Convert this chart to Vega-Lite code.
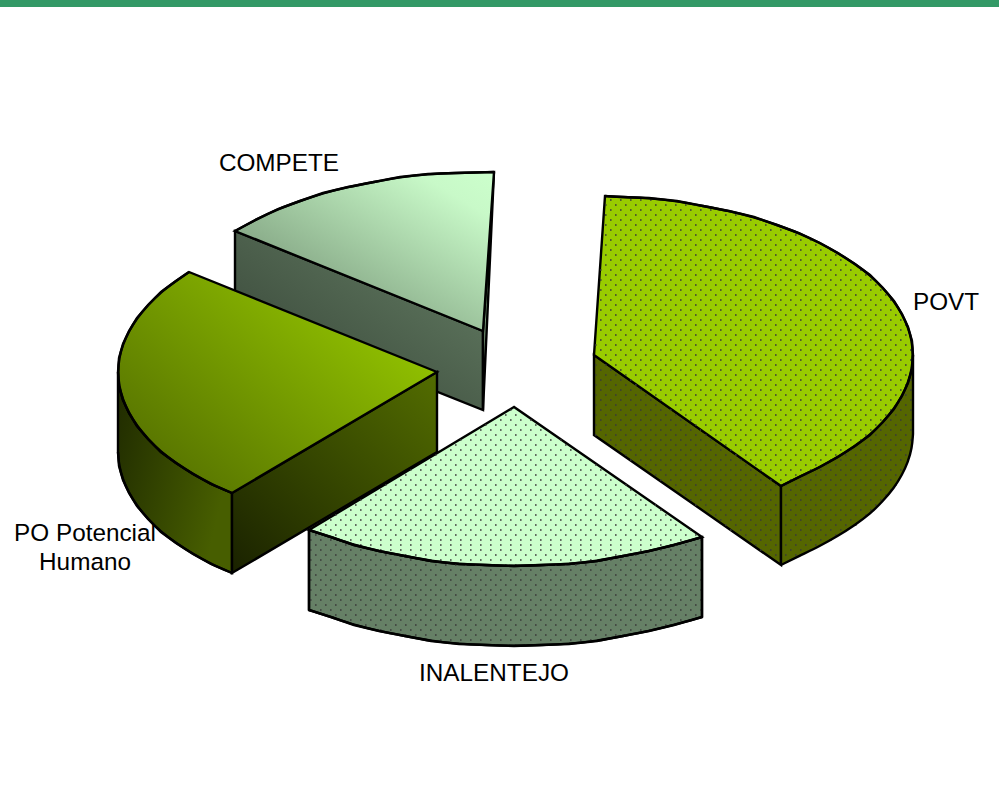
{"$schema":"https://vega.github.io/schema/vega-lite/v6.json","width":999,"height":794,"padding":0,"autosize":{"type":"fit","contains":"padding"},"background":"white","view":{"stroke":null},
"datasets":{
"outline":[
{"part":"compete_wall","x":235,"y":231},{"part":"compete_wall","x":483,"y":331},{"part":"compete_wall","x":483,"y":410},{"part":"compete_wall","x":235,"y":311},
{"part":"compete_side","x":494,"y":172},{"part":"compete_side","x":483,"y":331},{"part":"compete_side","x":483,"y":410},
{"part":"compete_top","x":483,"y":331},{"part":"compete_top","x":235,"y":231},{"part":"compete_top","x":257,"y":219},{"part":"compete_top","x":278,"y":209},{"part":"compete_top","x":300,"y":201},{"part":"compete_top","x":323,"y":193},{"part":"compete_top","x":348,"y":187},{"part":"compete_top","x":374,"y":182},{"part":"compete_top","x":400,"y":177},{"part":"compete_top","x":428,"y":174},{"part":"compete_top","x":455,"y":173},{"part":"compete_top","x":494,"y":172},
{"part":"ina_wall","x":309,"y":530},{"part":"ina_wall","x":331,"y":537},{"part":"ina_wall","x":354,"y":545},{"part":"ina_wall","x":379,"y":551},{"part":"ina_wall","x":405,"y":556},{"part":"ina_wall","x":431,"y":561},{"part":"ina_wall","x":459,"y":564},{"part":"ina_wall","x":486,"y":565},{"part":"ina_wall","x":514,"y":566},{"part":"ina_wall","x":542,"y":565},{"part":"ina_wall","x":569,"y":564},{"part":"ina_wall","x":597,"y":561},{"part":"ina_wall","x":623,"y":556},{"part":"ina_wall","x":649,"y":551},{"part":"ina_wall","x":674,"y":545},{"part":"ina_wall","x":702,"y":537},{"part":"ina_wall","x":702,"y":617},{"part":"ina_wall","x":674,"y":625},{"part":"ina_wall","x":649,"y":631},{"part":"ina_wall","x":623,"y":636},{"part":"ina_wall","x":597,"y":641},{"part":"ina_wall","x":569,"y":644},{"part":"ina_wall","x":542,"y":645},{"part":"ina_wall","x":514,"y":646},{"part":"ina_wall","x":486,"y":645},{"part":"ina_wall","x":459,"y":644},{"part":"ina_wall","x":431,"y":641},{"part":"ina_wall","x":405,"y":636},{"part":"ina_wall","x":379,"y":631},{"part":"ina_wall","x":354,"y":625},{"part":"ina_wall","x":331,"y":617},{"part":"ina_wall","x":309,"y":610},
{"part":"ina_top","x":514,"y":407},{"part":"ina_top","x":309,"y":530},{"part":"ina_top","x":331,"y":537},{"part":"ina_top","x":354,"y":545},{"part":"ina_top","x":379,"y":551},{"part":"ina_top","x":405,"y":556},{"part":"ina_top","x":431,"y":561},{"part":"ina_top","x":459,"y":564},{"part":"ina_top","x":486,"y":565},{"part":"ina_top","x":514,"y":566},{"part":"ina_top","x":542,"y":565},{"part":"ina_top","x":569,"y":564},{"part":"ina_top","x":597,"y":561},{"part":"ina_top","x":623,"y":556},{"part":"ina_top","x":649,"y":551},{"part":"ina_top","x":674,"y":545},{"part":"ina_top","x":702,"y":537},
{"part":"po_outer","x":118,"y":372},{"part":"po_outer","x":119,"y":386},{"part":"po_outer","x":123,"y":400},{"part":"po_outer","x":129,"y":413},{"part":"po_outer","x":137,"y":426},{"part":"po_outer","x":148,"y":439},{"part":"po_outer","x":161,"y":452},{"part":"po_outer","x":176,"y":463},{"part":"po_outer","x":193,"y":474},{"part":"po_outer","x":211,"y":484},{"part":"po_outer","x":232,"y":493},{"part":"po_outer","x":232,"y":573},{"part":"po_outer","x":211,"y":564},{"part":"po_outer","x":193,"y":554},{"part":"po_outer","x":176,"y":543},{"part":"po_outer","x":161,"y":532},{"part":"po_outer","x":148,"y":519},{"part":"po_outer","x":137,"y":506},{"part":"po_outer","x":129,"y":493},{"part":"po_outer","x":123,"y":480},{"part":"po_outer","x":119,"y":466},{"part":"po_outer","x":118,"y":452},
{"part":"po_inner","x":437,"y":372},{"part":"po_inner","x":232,"y":493},{"part":"po_inner","x":232,"y":573},{"part":"po_inner","x":437,"y":452},
{"part":"po_top","x":437,"y":372},{"part":"po_top","x":189,"y":272},{"part":"po_top","x":176,"y":281},{"part":"po_top","x":161,"y":292},{"part":"po_top","x":148,"y":305},{"part":"po_top","x":137,"y":318},{"part":"po_top","x":129,"y":331},{"part":"po_top","x":123,"y":344},{"part":"po_top","x":119,"y":358},{"part":"po_top","x":118,"y":372},{"part":"po_top","x":119,"y":386},{"part":"po_top","x":123,"y":400},{"part":"po_top","x":129,"y":413},{"part":"po_top","x":137,"y":426},{"part":"po_top","x":148,"y":439},{"part":"po_top","x":161,"y":452},{"part":"po_top","x":176,"y":463},{"part":"po_top","x":193,"y":474},{"part":"po_top","x":211,"y":484},{"part":"po_top","x":232,"y":493},
{"part":"povt_wall","x":594,"y":355},{"part":"povt_wall","x":781,"y":486},{"part":"povt_wall","x":781,"y":565},{"part":"povt_wall","x":594,"y":435},
{"part":"povt_outer","x":913,"y":355},{"part":"povt_outer","x":912,"y":369},{"part":"povt_outer","x":908,"y":383},{"part":"povt_outer","x":902,"y":396},{"part":"povt_outer","x":894,"y":409},{"part":"povt_outer","x":883,"y":422},{"part":"povt_outer","x":870,"y":435},{"part":"povt_outer","x":855,"y":446},{"part":"povt_outer","x":838,"y":457},{"part":"povt_outer","x":820,"y":467},{"part":"povt_outer","x":799,"y":477},{"part":"povt_outer","x":781,"y":486},{"part":"povt_outer","x":781,"y":565},{"part":"povt_outer","x":799,"y":556},{"part":"povt_outer","x":820,"y":546},{"part":"povt_outer","x":838,"y":536},{"part":"povt_outer","x":855,"y":525},{"part":"povt_outer","x":870,"y":514},{"part":"povt_outer","x":883,"y":501},{"part":"povt_outer","x":894,"y":488},{"part":"povt_outer","x":902,"y":475},{"part":"povt_outer","x":908,"y":462},{"part":"povt_outer","x":912,"y":448},{"part":"povt_outer","x":913,"y":434},
{"part":"povt_top","x":594,"y":355},{"part":"povt_top","x":605,"y":196},{"part":"povt_top","x":622,"y":197},{"part":"povt_top","x":649,"y":198},{"part":"povt_top","x":677,"y":201},{"part":"povt_top","x":703,"y":206},{"part":"povt_top","x":729,"y":211},{"part":"povt_top","x":754,"y":217},{"part":"povt_top","x":777,"y":225},{"part":"povt_top","x":799,"y":233},{"part":"povt_top","x":820,"y":243},{"part":"povt_top","x":838,"y":253},{"part":"povt_top","x":855,"y":264},{"part":"povt_top","x":870,"y":275},{"part":"povt_top","x":883,"y":288},{"part":"povt_top","x":894,"y":301},{"part":"povt_top","x":902,"y":314},{"part":"povt_top","x":908,"y":327},{"part":"povt_top","x":912,"y":341},{"part":"povt_top","x":913,"y":355},{"part":"povt_top","x":912,"y":369},{"part":"povt_top","x":908,"y":383},{"part":"povt_top","x":902,"y":396},{"part":"povt_top","x":894,"y":409},{"part":"povt_top","x":883,"y":422},{"part":"povt_top","x":870,"y":435},{"part":"povt_top","x":855,"y":446},{"part":"povt_top","x":838,"y":457},{"part":"povt_top","x":820,"y":467},{"part":"povt_top","x":799,"y":477},{"part":"povt_top","x":781,"y":486}
],
"arcsBack":[
{"arc":"a","x":235,"y":231},{"arc":"a","x":257,"y":219},{"arc":"a","x":278,"y":209},{"arc":"a","x":300,"y":201},{"arc":"a","x":323,"y":193},{"arc":"a","x":348,"y":187},{"arc":"a","x":374,"y":182},{"arc":"a","x":400,"y":177},{"arc":"a","x":428,"y":174},{"arc":"a","x":455,"y":173},{"arc":"a","x":494,"y":172},
{"arc":"b","x":309,"y":530},{"arc":"b","x":331,"y":537},{"arc":"b","x":354,"y":545},{"arc":"b","x":379,"y":551},{"arc":"b","x":405,"y":556},{"arc":"b","x":431,"y":561},{"arc":"b","x":459,"y":564},{"arc":"b","x":486,"y":565},{"arc":"b","x":514,"y":566},{"arc":"b","x":542,"y":565},{"arc":"b","x":569,"y":564},{"arc":"b","x":597,"y":561},{"arc":"b","x":623,"y":556},{"arc":"b","x":649,"y":551},{"arc":"b","x":674,"y":545},{"arc":"b","x":702,"y":537},
{"arc":"c","x":309,"y":610},{"arc":"c","x":331,"y":617},{"arc":"c","x":354,"y":625},{"arc":"c","x":379,"y":631},{"arc":"c","x":405,"y":636},{"arc":"c","x":431,"y":641},{"arc":"c","x":459,"y":644},{"arc":"c","x":486,"y":645},{"arc":"c","x":514,"y":646},{"arc":"c","x":542,"y":645},{"arc":"c","x":569,"y":644},{"arc":"c","x":597,"y":641},{"arc":"c","x":623,"y":636},{"arc":"c","x":649,"y":631},{"arc":"c","x":674,"y":625},{"arc":"c","x":702,"y":617},
{"arc":"d","x":605,"y":196},{"arc":"d","x":622,"y":197},{"arc":"d","x":649,"y":198},{"arc":"d","x":677,"y":201},{"arc":"d","x":703,"y":206},{"arc":"d","x":729,"y":211},{"arc":"d","x":754,"y":217},{"arc":"d","x":777,"y":225},{"arc":"d","x":799,"y":233},{"arc":"d","x":820,"y":243},{"arc":"d","x":838,"y":253},{"arc":"d","x":855,"y":264},{"arc":"d","x":870,"y":275},{"arc":"d","x":883,"y":288},{"arc":"d","x":894,"y":301},{"arc":"d","x":902,"y":314},{"arc":"d","x":908,"y":327},{"arc":"d","x":912,"y":341},{"arc":"d","x":913,"y":355},{"arc":"d","x":912,"y":369},{"arc":"d","x":908,"y":383},{"arc":"d","x":902,"y":396},{"arc":"d","x":894,"y":409},{"arc":"d","x":883,"y":422},{"arc":"d","x":870,"y":435},{"arc":"d","x":855,"y":446},{"arc":"d","x":838,"y":457},{"arc":"d","x":820,"y":467},{"arc":"d","x":799,"y":477},{"arc":"d","x":781,"y":486},
{"arc":"e","x":913,"y":434},{"arc":"e","x":912,"y":448},{"arc":"e","x":908,"y":462},{"arc":"e","x":902,"y":475},{"arc":"e","x":894,"y":488},{"arc":"e","x":883,"y":501},{"arc":"e","x":870,"y":514},{"arc":"e","x":855,"y":525},{"arc":"e","x":838,"y":536},{"arc":"e","x":820,"y":546},{"arc":"e","x":799,"y":556},{"arc":"e","x":781,"y":565}
],
"arcsFront":[
{"arc":"f","x":189,"y":272},{"arc":"f","x":176,"y":281},{"arc":"f","x":161,"y":292},{"arc":"f","x":148,"y":305},{"arc":"f","x":137,"y":318},{"arc":"f","x":129,"y":331},{"arc":"f","x":123,"y":344},{"arc":"f","x":119,"y":358},{"arc":"f","x":118,"y":372},{"arc":"f","x":119,"y":386},{"arc":"f","x":123,"y":400},{"arc":"f","x":129,"y":413},{"arc":"f","x":137,"y":426},{"arc":"f","x":148,"y":439},{"arc":"f","x":161,"y":452},{"arc":"f","x":176,"y":463},{"arc":"f","x":193,"y":474},{"arc":"f","x":211,"y":484},{"arc":"f","x":232,"y":493},
{"arc":"g","x":118,"y":452},{"arc":"g","x":119,"y":466},{"arc":"g","x":123,"y":480},{"arc":"g","x":129,"y":493},{"arc":"g","x":137,"y":506},{"arc":"g","x":148,"y":519},{"arc":"g","x":161,"y":532},{"arc":"g","x":176,"y":543},{"arc":"g","x":193,"y":554},{"arc":"g","x":211,"y":564},{"arc":"g","x":232,"y":573}
],
"dots":[
{"y":200,"x":610,"x2":665},{"y":205,"x":605,"x2":700},{"y":210,"x":610,"x2":725},{"y":215,"x":605,"x2":745},{"y":220,"x":610,"x2":762},{"y":225,"x":605,"x2":778},{"y":230,"x":610,"x2":791},{"y":235,"x":605,"x2":803},{"y":240,"x":610,"x2":814},{"y":245,"x":605,"x2":824},{"y":250,"x":610,"x2":834},{"y":255,"x":605,"x2":842},{"y":260,"x":610,"x2":850},{"y":265,"x":605,"x2":857},{"y":270,"x":600,"x2":864},{"y":275,"x":605,"x2":870},{"y":280,"x":600,"x2":875},{"y":285,"x":605,"x2":880},{"y":290,"x":600,"x2":885},{"y":295,"x":605,"x2":889},{"y":300,"x":600,"x2":893},{"y":305,"x":605,"x2":897},{"y":310,"x":600,"x2":900},{"y":315,"x":605,"x2":903},{"y":320,"x":600,"x2":905},{"y":325,"x":605,"x2":907},{"y":330,"x":600,"x2":909},{"y":335,"x":605,"x2":910},{"y":340,"x":600,"x2":912},{"y":345,"x":595,"x2":912},{"y":350,"x":600,"x2":913},{"y":355,"x":605,"x2":913},{"y":360,"x":610,"x2":913},{"y":365,"x":615,"x2":913},{"y":370,"x":620,"x2":912},{"y":375,"x":625,"x2":910},{"y":380,"x":630,"x2":909},{"y":385,"x":645,"x2":907},{"y":390,"x":650,"x2":905},{"y":395,"x":655,"x2":903},{"y":400,"x":660,"x2":900},{"y":405,"x":675,"x2":897},{"y":410,"x":680,"x2":893},{"y":415,"x":685,"x2":889},{"y":420,"x":690,"x2":885},{"y":425,"x":695,"x2":880},{"y":430,"x":710,"x2":875},{"y":435,"x":715,"x2":870},{"y":440,"x":720,"x2":864},{"y":445,"x":725,"x2":857},{"y":450,"x":730,"x2":850},{"y":455,"x":745,"x2":842},{"y":460,"x":750,"x2":834},{"y":465,"x":755,"x2":824},{"y":470,"x":760,"x2":814},{"y":475,"x":775,"x2":803},{"y":480,"x":780,"x2":791},
{"y":365,"x":595,"x2":608},{"y":370,"x":600,"x2":615},{"y":375,"x":595,"x2":622},{"y":380,"x":600,"x2":630},{"y":385,"x":595,"x2":637},{"y":390,"x":600,"x2":644},{"y":395,"x":595,"x2":651},{"y":400,"x":600,"x2":658},{"y":405,"x":595,"x2":665},{"y":410,"x":600,"x2":672},{"y":415,"x":595,"x2":680},{"y":420,"x":600,"x2":687},{"y":425,"x":595,"x2":694},{"y":430,"x":600,"x2":701},{"y":435,"x":595,"x2":708},{"y":440,"x":610,"x2":715},{"y":445,"x":615,"x2":722},{"y":450,"x":620,"x2":730},{"y":455,"x":625,"x2":737},{"y":460,"x":630,"x2":744},{"y":465,"x":645,"x2":751},{"y":470,"x":650,"x2":758},{"y":475,"x":655,"x2":765},{"y":480,"x":660,"x2":772},{"y":485,"x":675,"x2":779},
{"y":490,"x":680,"x2":893},{"y":495,"x":685,"x2":889},{"y":500,"x":690,"x2":885},{"y":505,"x":695,"x2":880},{"y":510,"x":710,"x2":875},{"y":515,"x":715,"x2":870},{"y":520,"x":720,"x2":864},{"y":525,"x":725,"x2":857},{"y":530,"x":730,"x2":850},{"y":535,"x":745,"x2":842},{"y":540,"x":750,"x2":834},{"y":545,"x":755,"x2":824},{"y":550,"x":760,"x2":814},{"y":555,"x":775,"x2":803},{"y":560,"x":780,"x2":791},
{"y":380,"x":910,"x2":913},{"y":390,"x":910,"x2":913},{"y":395,"x":905,"x2":913},{"y":400,"x":900,"x2":913},{"y":405,"x":905,"x2":913},{"y":410,"x":900,"x2":913},{"y":415,"x":895,"x2":913},{"y":420,"x":890,"x2":913},{"y":425,"x":885,"x2":913},{"y":430,"x":880,"x2":913},{"y":435,"x":875,"x2":913},{"y":440,"x":870,"x2":913},{"y":445,"x":865,"x2":912},{"y":450,"x":850,"x2":912},{"y":455,"x":845,"x2":910},{"y":460,"x":840,"x2":909},{"y":465,"x":825,"x2":907},{"y":470,"x":820,"x2":905},{"y":475,"x":805,"x2":903},{"y":480,"x":800,"x2":900},{"y":485,"x":785,"x2":897},
{"y":410,"x":510,"x2":518},{"y":415,"x":505,"x2":525},{"y":420,"x":500,"x2":533},{"y":425,"x":485,"x2":540},{"y":430,"x":480,"x2":547},{"y":435,"x":475,"x2":554},{"y":440,"x":460,"x2":562},{"y":445,"x":455,"x2":569},{"y":450,"x":450,"x2":576},{"y":455,"x":435,"x2":583},{"y":460,"x":430,"x2":590},{"y":465,"x":425,"x2":598},{"y":470,"x":410,"x2":605},{"y":475,"x":405,"x2":612},{"y":480,"x":400,"x2":619},{"y":485,"x":385,"x2":627},{"y":490,"x":380,"x2":634},{"y":495,"x":375,"x2":641},{"y":500,"x":360,"x2":648},{"y":505,"x":355,"x2":656},{"y":510,"x":350,"x2":663},{"y":515,"x":335,"x2":670},{"y":520,"x":330,"x2":677},{"y":525,"x":325,"x2":684},{"y":530,"x":320,"x2":691},{"y":535,"x":325,"x2":699},{"y":540,"x":340,"x2":689},{"y":545,"x":360,"x2":672},{"y":550,"x":380,"x2":653},{"y":555,"x":405,"x2":630},{"y":560,"x":430,"x2":601},{"y":565,"x":485,"x2":550},
{"y":535,"x":315,"x2":324},{"y":540,"x":310,"x2":339},{"y":545,"x":315,"x2":356},{"y":550,"x":310,"x2":375},{"y":555,"x":315,"x2":398},{"y":560,"x":310,"x2":427},{"y":565,"x":315,"x2":478},{"y":540,"x":690,"x2":702},{"y":545,"x":675,"x2":702},{"y":550,"x":660,"x2":702},{"y":555,"x":635,"x2":702},{"y":560,"x":610,"x2":702},{"y":565,"x":555,"x2":702},{"y":570,"x":310,"x2":702},{"y":575,"x":315,"x2":702},{"y":580,"x":310,"x2":702},{"y":585,"x":315,"x2":702},{"y":590,"x":310,"x2":702},{"y":595,"x":315,"x2":702},{"y":600,"x":310,"x2":702},{"y":605,"x":315,"x2":702},{"y":610,"x":320,"x2":702},{"y":615,"x":325,"x2":702},{"y":620,"x":340,"x2":689},{"y":625,"x":365,"x2":672},{"y":630,"x":380,"x2":653},{"y":635,"x":405,"x2":630},{"y":640,"x":430,"x2":601},{"y":645,"x":485,"x2":550}
],
"labels":[
{"label":"COMPETE","x":279,"y":171},{"label":"POVT","x":946,"y":310},{"label":"INALENTEJO","x":494,"y":681},{"label":"PO Potencial","x":85,"y":541},{"label":"Humano","x":85,"y":570}
]},
"encoding":{
"x":{"field":"x","type":"quantitative","axis":null,"scale":{"domain":[0,999],"nice":false,"zero":false}},
"y":{"field":"y","type":"quantitative","axis":null,"scale":{"domain":[794,0],"nice":false,"zero":false}}
},
"layer":[
{"data":{"values":[{"x":0,"x2":999,"y":0,"y2":7}]},"mark":{"type":"rect","fill":"#339966"},"encoding":{"x2":{"field":"x2"},"y2":{"field":"y2"}}},
{"data":{"name":"outline"},"transform":[{"filter":"datum.part==='compete_wall'"}],"mark":{"type":"line","interpolate":"linear-closed","stroke":"black","strokeWidth":2.4,"fill":{"gradient":"linear","x1":1,"y1":0,"x2":0,"y2":1,"stops":[{"offset":0,"color":"#668066"},{"offset":1,"color":"#334033"}]}},"encoding":{"order":{"value":null}}},
{"data":{"name":"outline"},"transform":[{"filter":"datum.part==='compete_side'"}],"mark":{"type":"line","interpolate":"linear-closed","stroke":"black","strokeWidth":2.4,"fill":"#7a9a7a"},"encoding":{"order":{"value":null}}},
{"data":{"name":"outline"},"transform":[{"filter":"datum.part==='compete_top'"}],"mark":{"type":"line","interpolate":"linear-closed","stroke":"black","strokeWidth":2.4,"fill":{"gradient":"linear","x1":1,"y1":0,"x2":0,"y2":1,"stops":[{"offset":0,"color":"#ccffcc"},{"offset":0.15,"color":"#c8f9c8"},{"offset":1,"color":"#668066"}]}},"encoding":{"order":{"value":null}}},
{"data":{"name":"outline"},"transform":[{"filter":"datum.part==='ina_wall'"}],"mark":{"type":"line","interpolate":"linear-closed","stroke":"black","strokeWidth":2.4,"fill":"#668066"},"encoding":{"order":{"value":null}}},
{"data":{"name":"outline"},"transform":[{"filter":"datum.part==='ina_top'"}],"mark":{"type":"line","interpolate":"linear-closed","stroke":"black","strokeWidth":2.4,"fill":"#ccffcc"},"encoding":{"order":{"value":null}}},
{"data":{"name":"outline"},"transform":[{"filter":"datum.part==='povt_wall'"}],"mark":{"type":"line","interpolate":"linear-closed","stroke":"black","strokeWidth":2.4,"fill":"#556600"},"encoding":{"order":{"value":null}}},
{"data":{"name":"outline"},"transform":[{"filter":"datum.part==='povt_outer'"}],"mark":{"type":"line","interpolate":"linear-closed","stroke":"#556600","strokeWidth":0,"fill":"#556600"},"encoding":{"order":{"value":null}}},
{"data":{"name":"outline"},"transform":[{"filter":"datum.part==='povt_top'"}],"mark":{"type":"line","interpolate":"linear-closed","stroke":"black","strokeWidth":2.4,"fill":"#99cc00"},"encoding":{"order":{"value":null}}},
{"data":{"name":"dots"},"mark":{"type":"rule","stroke":"#3a3a3a","strokeWidth":1.6,"strokeDash":[1.6,8.4]},"encoding":{"x2":{"field":"x2"}}},
{"data":{"name":"arcsBack"},"mark":{"type":"line","interpolate":"basis","stroke":"black","strokeWidth":2.4},"encoding":{"detail":{"field":"arc"},"order":{"value":null}}},
{"data":{"values":[{"x":913,"y":355,"x2":913,"y2":434},{"x":781,"y":486,"x2":781,"y2":565},{"x":309,"y":530,"x2":309,"y2":610},{"x":702,"y":537,"x2":702,"y2":617}]},"mark":{"type":"rule","stroke":"black","strokeWidth":2.4},"encoding":{"x2":{"field":"x2"},"y2":{"field":"y2"}}},
{"data":{"name":"outline"},"transform":[{"filter":"datum.part==='po_outer'"}],"mark":{"type":"line","interpolate":"linear-closed","stroke":"black","strokeWidth":2.4,"fill":{"gradient":"linear","x1":0,"y1":0,"x2":1,"y2":0.4,"stops":[{"offset":0,"color":"#1f2a00"},{"offset":1,"color":"#475e00"}]}},"encoding":{"order":{"value":null}}},
{"data":{"name":"outline"},"transform":[{"filter":"datum.part==='po_inner'"}],"mark":{"type":"line","interpolate":"linear-closed","stroke":"black","strokeWidth":2.4,"fill":{"gradient":"linear","x1":1,"y1":0,"x2":0,"y2":1,"stops":[{"offset":0,"color":"#536d00"},{"offset":1,"color":"#1a2200"}]}},"encoding":{"order":{"value":null}}},
{"data":{"name":"outline"},"transform":[{"filter":"datum.part==='po_top'"}],"mark":{"type":"line","interpolate":"linear-closed","stroke":"black","strokeWidth":2.4,"fill":{"gradient":"linear","x1":1,"y1":0.2,"x2":0,"y2":1,"stops":[{"offset":0,"color":"#99cc00"},{"offset":1,"color":"#4d6600"}]}},"encoding":{"order":{"value":null}}},
{"data":{"name":"arcsFront"},"mark":{"type":"line","interpolate":"basis","stroke":"black","strokeWidth":2.4},"encoding":{"detail":{"field":"arc"},"order":{"value":null}}},
{"data":{"name":"labels"},"mark":{"type":"text","font":"Liberation Sans","fontSize":24.3,"align":"center","baseline":"alphabetic","fill":"black"},"encoding":{"text":{"field":"label"}}}
]}
